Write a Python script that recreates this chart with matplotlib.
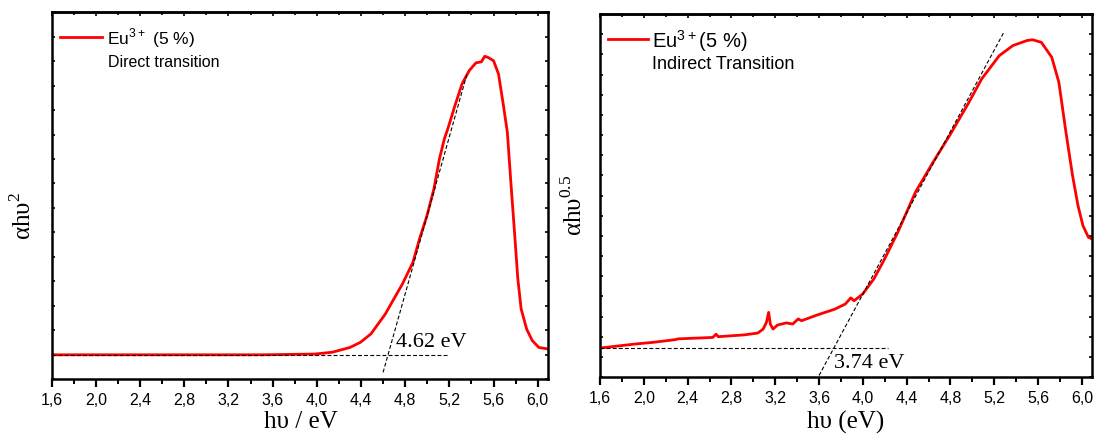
import matplotlib
matplotlib.use("Agg")
import matplotlib.pyplot as plt
from matplotlib.ticker import FixedLocator, FixedFormatter, MultipleLocator

plt.rcParams['font.family'] = ['Liberation Sans', 'DejaVu Sans']

# ---------------- data ----------------
# Left panel: direct transition (alpha*h*nu)^2, arbitrary units
direct_x = [1.60, 2.00, 2.50, 3.00, 3.50, 3.98, 4.14, 4.30, 4.395, 4.49, 4.62, 4.68,
            4.775, 4.87, 4.93, 4.997, 5.06, 5.11, 5.155, 5.19, 5.25, 5.315, 5.38,
            5.44, 5.49, 5.52, 5.55, 5.60, 5.645, 5.69, 5.725, 5.757, 5.79, 5.82,
            5.85, 5.90, 5.95, 6.01, 6.09]
direct_y = [0.066, 0.066, 0.066, 0.066, 0.066, 0.068, 0.073, 0.086, 0.100, 0.123,
            0.177, 0.209, 0.259, 0.318, 0.382, 0.445, 0.518, 0.600, 0.655, 0.686,
            0.745, 0.805, 0.841, 0.862, 0.865, 0.880, 0.877, 0.868, 0.832, 0.745,
            0.673, 0.536, 0.400, 0.273, 0.191, 0.136, 0.105, 0.086, 0.082]
direct_tan_x = [4.60, 5.36]
direct_tan_y = [0.018, 0.832]
direct_base_x = [1.60, 5.19]
direct_base_y = [0.066, 0.066]
direct_gap = 4.62

# Right panel: indirect transition (alpha*h*nu)^0.5, arbitrary units
indirect_x = [1.606, 1.926, 2.085, 2.29, 2.31, 2.63, 2.66, 2.68, 2.915, 3.04, 3.09,
              3.12, 3.14, 3.155, 3.18, 3.22, 3.30, 3.36, 3.41, 3.44, 3.585, 3.745,
              3.84, 3.89, 3.92, 4.00, 4.10, 4.19, 4.32, 4.48, 4.64, 4.80, 4.96,
              5.085, 5.245, 5.37, 5.50, 5.55, 5.63, 5.725, 5.79, 5.855, 5.915,
              5.965, 6.01, 6.06, 6.11]
indirect_y = [0.080, 0.091, 0.0955, 0.103, 0.105, 0.109, 0.118, 0.111, 0.116, 0.121,
              0.132, 0.151, 0.178, 0.146, 0.132, 0.143, 0.149, 0.146, 0.160, 0.155,
              0.171, 0.187, 0.201, 0.218, 0.210, 0.229, 0.270, 0.320, 0.399, 0.509,
              0.591, 0.669, 0.752, 0.821, 0.885, 0.913, 0.927, 0.929, 0.922, 0.881,
              0.812, 0.674, 0.555, 0.472, 0.417, 0.385, 0.378]
indirect_tan_x = [3.60, 5.29]
indirect_tan_y = [0.004, 0.951]
indirect_base_x = [1.60, 4.23]
indirect_base_y = [0.080, 0.080]
indirect_gap = 3.74

x_ticks = [1.6, 2.0, 2.4, 2.8, 3.2, 3.6, 4.0, 4.4, 4.8, 5.2, 5.6, 6.0]
x_tick_labels = ['1,6', '2,0', '2,4', '2,8', '3,2', '3,6', '4,0', '4,4', '4,8',
                 '5,2', '5,6', '6,0']

RED = '#FF0000'
SERIF = ['Liberation Serif', 'DejaVu Serif']

fig = plt.figure(figsize=(10.97, 4.39), dpi=100)
ax1 = fig.add_axes([0.04713, 0.1344, 0.4521, 0.8353])
ax2 = fig.add_axes([0.54695, 0.13895, 0.44822, 0.82688])


def style_axes(ax, ystep):
    ax.set_xlim(1.6, 6.09)
    ax.set_ylim(0, 1)
    for s in ax.spines.values():
        s.set_linewidth(1.8)
    ax.xaxis.set_major_locator(FixedLocator(x_ticks))
    ax.xaxis.set_major_formatter(FixedFormatter(x_tick_labels))
    ax.xaxis.set_minor_locator(MultipleLocator(0.2))
    ax.tick_params(axis='x', which='major', direction='out', length=6, width=1.6,
                   labelsize=11.5, pad=3.5, bottom=True, top=False)
    ax.tick_params(axis='x', which='minor', direction='out', length=3.5, width=1.4,
                   bottom=True, top=False)
    ax.yaxis.set_major_locator(MultipleLocator(ystep))
    ax.tick_params(axis='y', which='major', direction='in', length=2.5, width=1.2,
                   left=True, right=True, labelleft=False)
    top = ax.secondary_xaxis('top')
    top.xaxis.set_major_locator(FixedLocator(x_ticks))
    top.xaxis.set_minor_locator(MultipleLocator(0.2))
    top.tick_params(axis='x', which='major', direction='in', length=3, width=1.2,
                    labeltop=False)
    top.tick_params(axis='x', which='minor', direction='in', length=2.5, width=1.2)
    top.spines['top'].set_linewidth(1.8)


style_axes(ax1, 1 / 15)
style_axes(ax2, 1 / 18)

dash = (0, (3.5, 2))

# ---- left panel ----
l1, = ax1.plot(direct_x, direct_y, color=RED, lw=2.0,
               label='Eu$^{\\mathregular{3+}}$ (5 %)')
ax1.plot(direct_tan_x, direct_tan_y, color='black', lw=0.8, linestyle=dash)
ax1.plot(direct_base_x, direct_base_y, color='black', lw=0.8, linestyle=dash)
ax1.text(4.716, 0.09, f'{direct_gap:.2f} eV', fontsize=16, family=SERIF,
         ha='left', va='baseline')
ax1.legend(handles=[l1], loc='center left', bbox_to_anchor=(0.0167, 0.932),
           frameon=False, fontsize=12.5, handlelength=2.4, handletextpad=0.3,
           borderpad=0, borderaxespad=0)
ax1.text(0.1135, 0.865, 'Direct transition', transform=ax1.transAxes,
         fontsize=11.5, ha='left', va='center')
ax1.set_xlabel('h\u03c5 / eV', fontsize=18, family=SERIF)
ax1.xaxis.set_label_coords(0.503, -0.085)
ax1.set_ylabel('\u03b1h\u03c5$^{\\mathregular{2}}$', fontsize=18, family=SERIF)
ax1.yaxis.set_label_coords(-0.032, 0.447)

# ---- right panel ----
l2, = ax2.plot(indirect_x, indirect_y, color=RED, lw=2.0,
               label='Eu$^{\\mathregular{3+}}$(5 %)')
ax2.plot(indirect_tan_x, indirect_tan_y, color='black', lw=0.8, linestyle=dash)
ax2.plot(indirect_base_x, indirect_base_y, color='black', lw=0.8, linestyle=dash)
ax2.text(3.735, 0.0275, f'{indirect_gap:.2f} eV', fontsize=16, family=SERIF,
         ha='left', va='baseline')
ax2.legend(handles=[l2], loc='center left', bbox_to_anchor=(0.0163, 0.929),
           frameon=False, fontsize=14.5, handlelength=2.0, handletextpad=0.2,
           borderpad=0, borderaxespad=0)
ax2.text(0.105, 0.865, 'Indirect Transition', transform=ax2.transAxes,
         fontsize=13, ha='left', va='center')
ax2.set_xlabel('h\u03c5 (eV)', fontsize=18, family=SERIF)
ax2.xaxis.set_label_coords(0.50, -0.09)
ax2.set_ylabel('\u03b1h\u03c5$^{\\mathregular{0.5}}$', fontsize=18, family=SERIF)
ax2.yaxis.set_label_coords(-0.026, 0.477)

fig.savefig('out.png', dpi=100)
